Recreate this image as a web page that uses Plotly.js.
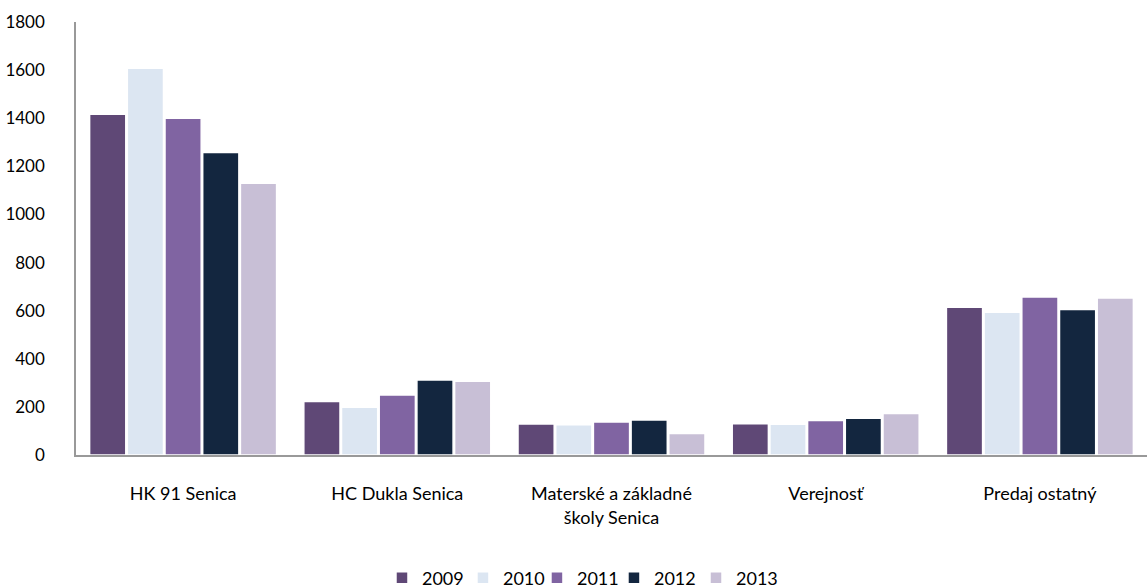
<!DOCTYPE html>
<html>
<head>
<meta charset="utf-8">
<script src="https://cdn.plot.ly/plotly-3.0.1.min.js"></script>
<style>html,body{margin:0;padding:0;background:#fff;}#chart{width:1147px;height:588px;}</style>
</head>
<body>
<div id="chart"></div>
<script>
const categories = ["HK 91 Senica", "HC Dukla Senica", "Materské a základné<br>školy Senica", "Verejnosť", "Predaj ostatný"];
const years = ["2009", "2010", "2011", "2012", "2013"];
const v2009 = [1417, 222, 129, 130, 614];
const v2010 = [1608, 199, 126, 128, 593];
const v2011 = [1400, 249, 137, 143, 657];
const v2012 = [1257, 312, 146, 153, 605];
const v2013 = [1130, 307, 89, 172, 653];
const colors = ["#5F4876", "#DCE6F2", "#8064A2", "#13263F", "#C8BFD6"];
const yTicks = [0, 200, 400, 600, 800, 1000, 1200, 1400, 1600, 1800];

const series = [v2009, v2010, v2011, v2012, v2013];
const font = "Lato, 'Liberation Sans', sans-serif";
const legendKeys = ["legend", "legend2", "legend3", "legend4", "legend5"];
const legendX = [0.2857, 0.3613, 0.4304, 0.5023, 0.5789];

const traces = series.map((vals, i) => ({
  type: "bar",
  name: years[i],
  x: categories,
  y: vals,
  legend: legendKeys[i],
  marker: {color: colors[i], line: {color: "#ffffff", width: 1.5}},
  hoverinfo: "x+y+name"
}));

const layout = {
  width: 1147, height: 588,
  margin: {l: 76, r: 0, t: 22, b: 133, autoexpand: false},
  paper_bgcolor: "#ffffff",
  plot_bgcolor: "#ffffff",
  barmode: "group",
  bargap: 0.12,
  bargroupgap: 0.04,
  font: {family: font, size: 16, color: "#000000"},
  xaxis: {
    type: "category",
    showline: true, linecolor: "#999999", linewidth: 1.5,
    showgrid: false, ticks: "",
    ticklabelstandoff: 22,
    automargin: false,
    tickfont: {family: font, size: 18, color: "#000"}
  },
  yaxis: {
    range: [0, 1800],
    tickvals: yTicks,
    ticktext: yTicks.map(String),
    showline: true, linecolor: "#999999", linewidth: 1.5,
    showgrid: false, zeroline: false, ticks: "",
    ticklabelstandoff: 26,
    automargin: false,
    tickfont: {family: font, size: 17, color: "#000"}
  },
  showlegend: true
};

legendKeys.forEach((k, i) => {
  layout[k] = {
    orientation: "h",
    x: legendX[i], xanchor: "left",
    y: -0.284, yanchor: "middle",
    font: {family: font, size: 18, color: "#000"},
    itemwidth: 30,
    bgcolor: "rgba(0,0,0,0)"
  };
});

Plotly.newPlot("chart", traces, layout, {displayModeBar: false, responsive: false});
</script>
</body>
</html>
